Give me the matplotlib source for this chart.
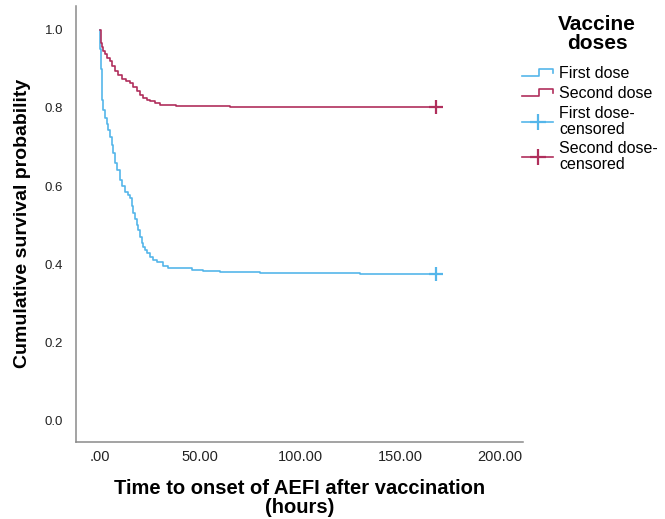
import matplotlib
matplotlib.use("Agg")
import matplotlib.pyplot as plt
from matplotlib.lines import Line2D
from matplotlib.legend_handler import HandlerBase

plt.rcParams['font.family'] = ['Liberation Sans', 'DejaVu Sans']

# Kaplan-Meier estimates (hours, survival probability)
first_t = [0, 0.2, 0.5, 0.8, 1.2, 1.7, 2.5, 3.3, 4.2, 5.0, 5.8, 6.7, 7.5,
           8.5, 10.0, 11.0, 12.5, 14.0, 15.0, 15.8, 16.7, 17.5, 18.3, 19.2,
           20.0, 20.8, 21.7, 22.5, 23.3, 25.0, 26.7, 28.5, 31.7, 34.0, 36.7,
           43.3, 46.0, 51.7, 60.0, 80.0, 100.0, 130.0, 168.0]
first_s = [1.0, 0.95, 0.90, 0.855, 0.82, 0.795, 0.775, 0.76, 0.744, 0.725,
           0.705, 0.685, 0.659, 0.64, 0.616, 0.60, 0.586, 0.578, 0.570, 0.55,
           0.531, 0.515, 0.50, 0.488, 0.47, 0.454, 0.445, 0.436, 0.429, 0.418,
           0.412, 0.405, 0.395, 0.392, 0.391, 0.391, 0.386, 0.382, 0.380,
           0.378, 0.377, 0.376, 0.376]

second_t = [0, 0.3, 0.7, 1.2, 1.7, 2.5, 3.5, 5.0, 6.2, 7.5, 9.0, 10.8, 13.0,
            15.0, 16.5, 18.3, 20.0, 21.7, 23.3, 25.0, 27.5, 30.0, 34.0, 38.0,
            45.0, 52.0, 65.0, 80.0, 120.0, 168.0]
second_s = [1.0, 0.985, 0.966, 0.955, 0.945, 0.937, 0.928, 0.919, 0.906,
            0.893, 0.884, 0.874, 0.869, 0.864, 0.853, 0.842, 0.833, 0.825,
            0.820, 0.817, 0.812, 0.808, 0.807, 0.806, 0.805, 0.804, 0.803,
            0.802, 0.801, 0.801]

censor_t = [168.0, 168.0]
censor_s = [0.376, 0.801]

x_ticks = [0, 50, 100, 150, 200]
x_labels = ['.00', '50.00', '100.00', '150.00', '200.00']
y_ticks = [0.0, 0.2, 0.4, 0.6, 0.8, 1.0]
y_labels = ['0.0', '0.2', '0.4', '0.6', '0.8', '1.0']

blue = '#55b6ea'
red = '#b02f5c'


class StepHandler(HandlerBase):
    # draws the little step glyph used for the survival curves in the legend
    def create_artists(self, legend, orig_handle, xdescent, ydescent,
                       width, height, fontsize, trans):
        w, h = width, height
        x0 = -xdescent
        xs = [x0, x0 + 0.55 * w, x0 + 0.55 * w, x0 + w, x0 + w]
        ys = [0.2 * h, 0.2 * h, 0.8 * h, 0.8 * h, 0.45 * h]
        ln = Line2D(xs, ys, color=orig_handle.get_color(),
                    linewidth=orig_handle.get_linewidth(), transform=trans)
        return [ln]


fig = plt.figure(figsize=(6.65, 5.19), dpi=100)
ax = fig.add_axes([0.1143, 0.149, 0.6722, 0.840])

l1, = ax.plot(first_t, first_s, drawstyle='steps-post', color=blue, lw=1.2)
l2, = ax.plot(second_t, second_s, drawstyle='steps-post', color=red, lw=1.2)
c1, = ax.plot(censor_t[:1], censor_s[:1], ls='none', marker='+', ms=10, mew=1.6, color=blue)
c2, = ax.plot(censor_t[1:], censor_s[1:], ls='none', marker='+', ms=10, mew=1.6, color=red)

ax.set_xlim(-12, 211.5)
ax.set_ylim(-0.053, 1.061)
ax.set_xticks(x_ticks)
ax.set_xticklabels(x_labels)
ax.set_yticks(y_ticks)
ax.set_yticklabels(y_labels)
ax.tick_params(length=0, colors='#222222')
ax.tick_params(axis='x', labelsize=10.5, pad=6)
ax.tick_params(axis='y', labelsize=9.5, pad=9.4)

for side in ['top', 'right']:
    ax.spines[side].set_visible(False)
for side in ['left', 'bottom']:
    ax.spines[side].set_color('#8a8a8a')
    ax.spines[side].set_linewidth(1.1)

ax.set_xlabel('Time to onset of AEFI after vaccination\n(hours)',
              fontsize=14.5, fontweight='bold', labelpad=11, linespacing=0.95)
ax.set_ylabel('Cumulative survival probability', fontsize=14,
              fontweight='bold', labelpad=10)

# legend title drawn separately so its spacing can follow the reference
fig.text(0.898, 1 - 34 / 519, 'Vaccine\ndoses', ha='center', va='center',
         fontsize=15, fontweight='bold', linespacing=1.0)

leg_lines = [Line2D([], [], color=blue, lw=1.2),
             Line2D([], [], color=red, lw=1.2),
             Line2D([0, 1], [0, 0], color=blue, lw=1.2, marker='+', ms=11, mew=1.6),
             Line2D([0, 1], [0, 0], color=red, lw=1.2, marker='+', ms=11, mew=1.6)]
leg = fig.legend(leg_lines,
                 ['First dose', 'Second dose', 'First dose-\ncensored', 'Second dose-\ncensored'],
                 handler_map={leg_lines[0]: StepHandler(), leg_lines[1]: StepHandler()},
                 loc='upper left', bbox_to_anchor=(0.764, 1 - 52 / 519), frameon=False,
                 fontsize=11.5, handlelength=1.9,
                 handletextpad=0.4, labelspacing=0.3, numpoints=1)
for t in leg.get_texts():
    t.set_linespacing(1.05)

fig.savefig('out.png', dpi=100)
